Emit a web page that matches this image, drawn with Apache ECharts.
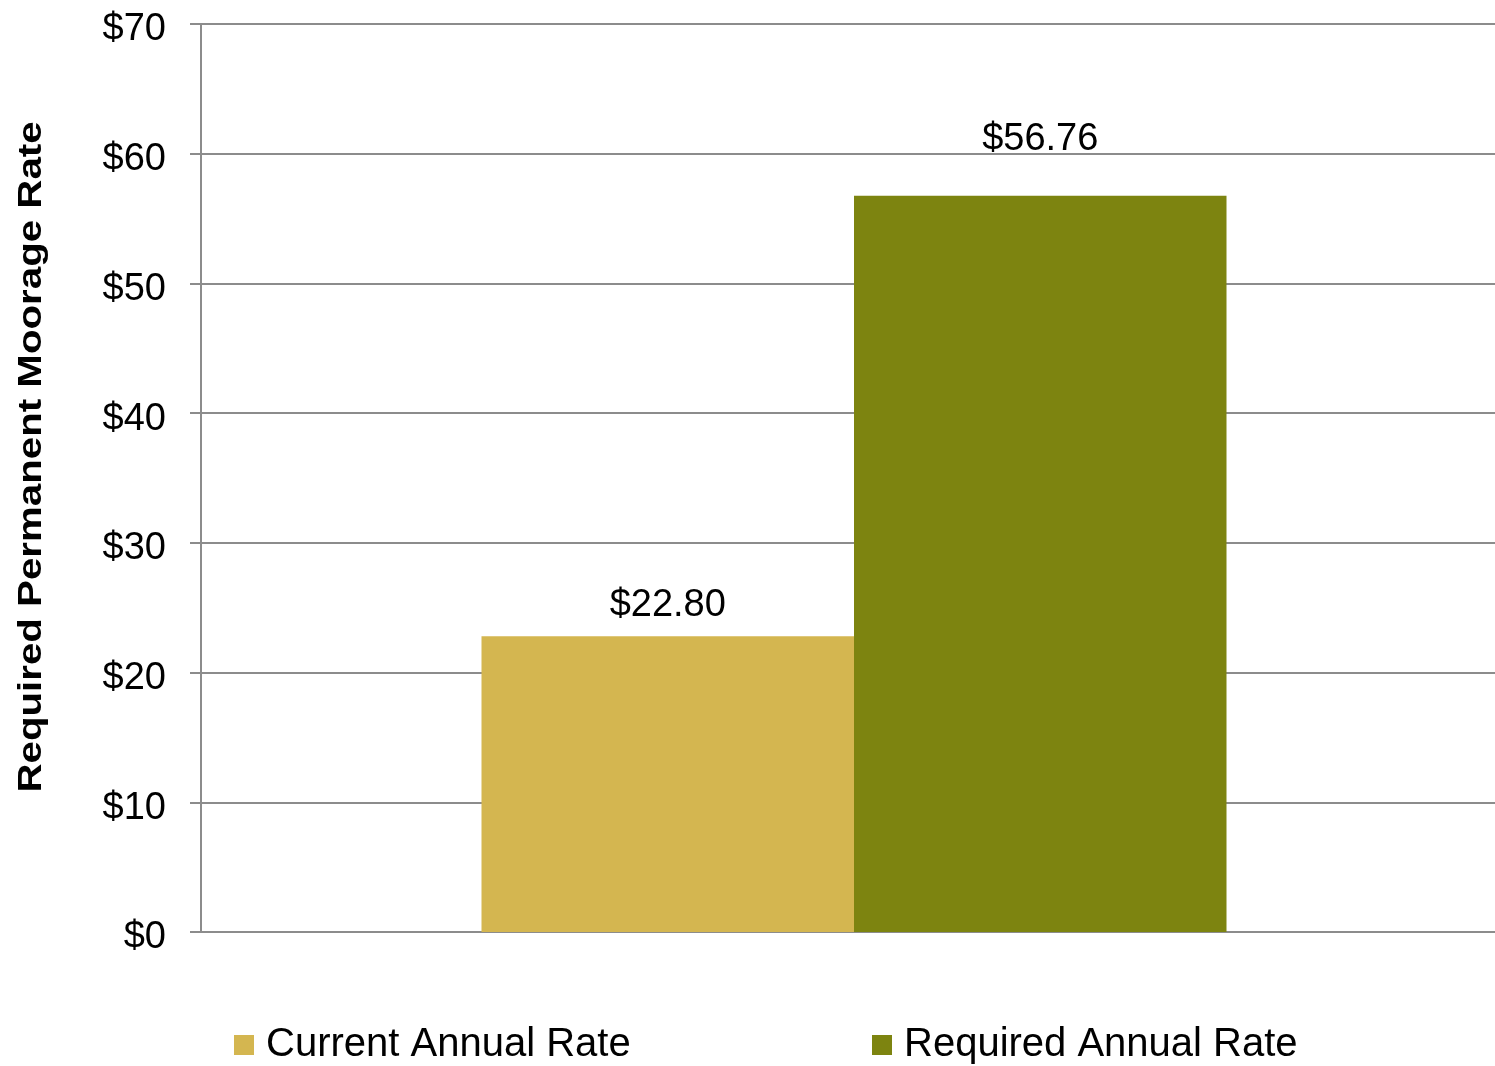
<!DOCTYPE html>
<html>
<head>
<meta charset="utf-8">
<title>Required Permanent Moorage Rate</title>
<script src="https://cdn.jsdelivr.net/npm/echarts@6/dist/echarts.min.js"></script>
<style>
  html, body { margin: 0; padding: 0; background: #ffffff; overflow: hidden; }
  #chart { width: 1507px; height: 1066px; }
</style>
</head>
<body>
<div id="chart"></div>
<script>
// Chart data
const categories = [''];
const seriesNames = ['Current Annual Rate', 'Required Annual Rate'];
const currentRate = [22.80];
const requiredRate = [56.76];
const yAxisTitle = 'Required Permanent Moorage Rate';
const yMin = 0, yMax = 70, yStep = 10;

const FONT = '"Liberation Sans", Arial, Helvetica, sans-serif';
const GRID_GRAY = '#8c8c8c';
const colors = ['#D4B650', '#7D8410'];

const chart = echarts.init(document.getElementById('chart'), null, { renderer: 'canvas' });

const money = v => '$' + v;
const moneyLabel = p => '$' + p.value.toFixed(2);

const legendText = { fontFamily: FONT, fontSize: 40, color: '#000', padding: [0, 0, 0, 7] };

const option = {
  backgroundColor: '#ffffff',
  animation: false,
  grid: { left: 201, right: 0, top: 24, bottom: 134, containLabel: false },
  legend: [
    {
      data: [seriesNames[0]], left: 234, top: 1025, padding: 0,
      icon: 'rect', itemWidth: 20, itemHeight: 20,
      textStyle: legendText, selectedMode: false
    },
    {
      data: [seriesNames[1]], left: 872, top: 1025, padding: 0,
      icon: 'rect', itemWidth: 20, itemHeight: 20,
      textStyle: legendText, selectedMode: false
    }
  ],
  xAxis: {
    type: 'category',
    data: categories,
    axisLine: { show: true, lineStyle: { color: GRID_GRAY, width: 2 } },
    axisTick: { show: false },
    axisLabel: { show: false },
    splitLine: { show: false }
  },
  yAxis: {
    type: 'value',
    min: yMin, max: yMax, interval: yStep,
    axisLine: { show: true, lineStyle: { color: GRID_GRAY, width: 2 } },
    axisTick: { show: true, length: 11, inside: false, lineStyle: { color: GRID_GRAY, width: 2 } },
    axisLabel: {
      margin: 35, fontFamily: FONT, fontSize: 38, color: '#000',
      verticalAlign: 'top', lineHeight: 12,
      formatter: money
    },
    splitLine: { show: true, lineStyle: { color: GRID_GRAY, width: 2 } }
  },
  graphic: [
    {
      type: 'text',
      x: 32, y: 457,
      rotation: Math.PI / 2,
      scaleX: 1.22,
      style: {
        text: yAxisTitle,
        fontFamily: FONT, fontSize: 33, fontWeight: 'bold', fill: '#000',
        align: 'center', verticalAlign: 'middle'
      }
    }
  ],
  series: [
    {
      name: seriesNames[0], type: 'bar', data: currentRate,
      barWidth: 372.5, barGap: 0,
      itemStyle: { color: colors[0] },
      label: {
        show: true, position: 'top', distance: 12,
        fontFamily: FONT, fontSize: 38, color: '#000',
        formatter: moneyLabel
      }
    },
    {
      name: seriesNames[1], type: 'bar', data: requiredRate,
      barWidth: 372.5, barGap: 0,
      itemStyle: { color: colors[1] },
      label: {
        show: true, position: 'top', distance: 37,
        fontFamily: FONT, fontSize: 38, color: '#000',
        formatter: moneyLabel
      }
    }
  ]
};

chart.setOption(option);
</script>
</body>
</html>
